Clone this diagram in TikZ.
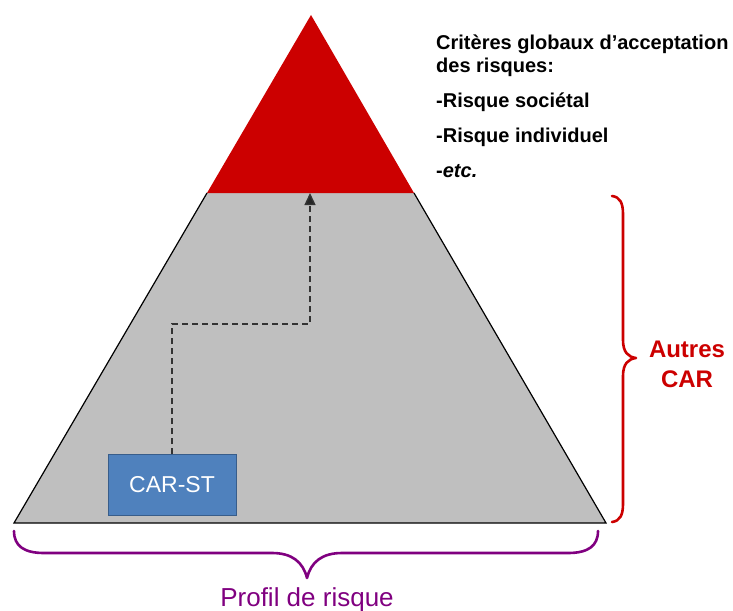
\documentclass[tikz,border=0pt]{standalone}
\usepackage{fontspec}
\setmainfont{Liberation Sans}
\usetikzlibrary{arrows.meta}
\definecolor{peakred}{HTML}{CC0000}
\definecolor{bodygray}{HTML}{BFBFBF}
\definecolor{boxblue}{HTML}{4F81BD}
\definecolor{boxedge}{HTML}{385D8A}
\definecolor{bracepurple}{HTML}{800080}
\tikzset{
  criteria/.style={anchor=base west, inner sep=0pt, font=\fontsize{20}{24}\selectfont\bfseries},
  carbox/.style={draw=boxedge, line width=1pt, fill=boxblue, text=white,
    minimum width=128pt, minimum height=61pt, inner sep=0pt,
    font=\fontsize{23}{26}\selectfont},
  pathline/.style={dash pattern=on 6pt off 4pt, line width=1.4pt, draw=black!80,
    arrows={-Triangle[length=12pt,width=11pt,fill=black!85]}},
  bracestroke/.style={line width=2.6pt, line cap=round, line join=round},
}
\begin{document}
\begin{tikzpicture}[x=1pt,y=-1pt]
\useasboundingbox (0,0) rectangle (733,610);

% pyramid: grey body and red peak
\coordinate (apex) at (311,15);
\coordinate (bl) at (14,523);
\coordinate (br) at (606,523);
\coordinate (cl) at (207,193);
\coordinate (cr) at (414,193);
\fill[bodygray] (cl) -- (cr) -- (br) -- (bl) -- cycle;
\fill[peakred] (apex) -- (cr) -- (cl) -- cycle;
\draw[line width=1.2pt, black] (cl) -- (bl) -- (br) -- (cr);

% CAR-ST box and its path to the peak
\node[carbox] (carst) at (172,485) {CAR-ST};
\coordinate (bend1) at (172,324);
\coordinate (bend2) at (310,324);
\coordinate (goal) at (310,193);
\draw[pathline] (carst.north) -- (bend1) -- (bend2) -- (goal);

% global criteria text
\node[criteria] (c1) at (436,49) {Critères globaux d’acceptation};
\node[criteria] (c2) at (436,72) {des risques:};
\node[criteria] (c3) at (436,107) {-Risque sociétal};
\node[criteria] (c4) at (436,142) {-Risque individuel};
\node[criteria] (c5) at (436,177) {-\textit{etc.}};

% right brace
\draw[bracestroke, peakred] (612,196)
  .. controls (620,197) and (623,203) .. (623,214)
  -- (623,340)
  .. controls (623,352) and (628,357) .. (636,358)
  .. controls (628,359) and (623,364) .. (623,376)
  -- (623,504)
  .. controls (623,515) and (620,521) .. (612,522);
\node[text=peakred, font=\fontsize{24}{30}\selectfont\bfseries, align=center, inner sep=0pt]
  (other) at (687,364) {Autres\\CAR};

% bottom brace
\draw[bracestroke, bracepurple] (14,531)
  .. controls (14,546) and (24,553) .. (44,553)
  -- (272,553)
  .. controls (292,553) and (303,562) .. (307,578)
  .. controls (311,562) and (322,553) .. (342,553)
  -- (568,553)
  .. controls (588,553) and (598,546) .. (598,531);
\node[text=bracepurple, font=\fontsize{26}{30}\selectfont, anchor=base, inner sep=0pt]
  (profil) at (307,606) {Profil de risque};
\end{tikzpicture}
\end{document}
